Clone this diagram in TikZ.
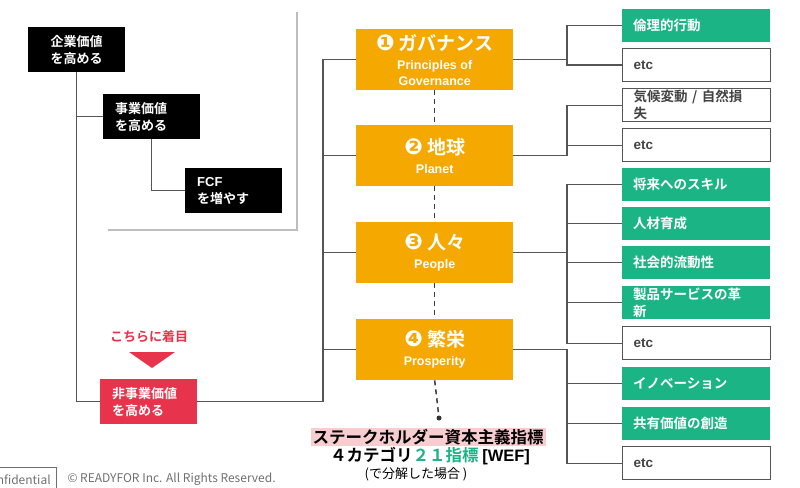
\documentclass[tikz,border=0pt]{standalone}
\usepackage{fontspec}
\setmainfont{Noto Sans CJK JP}[BoldFont={Noto Sans CJK JP Bold}]
\newfontfamily\dingfont{DejaVu Sans}
\newfontfamily\latinfont{Liberation Sans}
\usetikzlibrary{positioning}

\definecolor{pillarorange}{HTML}{F5A800}
\definecolor{leafgreen}{HTML}{1BB585}
\definecolor{focusred}{HTML}{E7334B}
\definecolor{linegray}{HTML}{555555}
\definecolor{framegray}{HTML}{BDBDBD}
\definecolor{highlightpink}{HTML}{F8CDD0}
\definecolor{footgray}{HTML}{707070}
\definecolor{etcgray}{HTML}{444444}

\newcommand\pillarhead[2]{{\fontsize{19}{22}\selectfont{\dingfont\fontsize{22}{22}\selectfont #1}\hspace{4pt}#2}}
\newcommand\pillarsub{\latinfont\fontsize{12.5}{16}\selectfont}

\tikzset{
  valuebox/.style={fill=black, text=white, anchor=north west, inner xsep=12pt, inner ysep=0pt,
    text width=73pt, minimum height=45pt, align=left, font=\bfseries\fontsize{13}{17}\selectfont},
  pillar/.style={fill=pillarorange, text=white, anchor=north west, inner sep=0pt,
    minimum width=157pt, minimum height=61pt, align=center, font=\bfseries\fontsize{12.5}{16}\selectfont},
  leaf/.style={fill=leafgreen, text=white, anchor=north west, inner xsep=11pt, inner ysep=0pt,
    text width=126pt, minimum height=33pt, align=left, font=\bfseries\fontsize{13.5}{17}\selectfont},
  etcleaf/.style={leaf, fill=white, draw=linegray, line width=1.2pt, text=etcgray},
  link/.style={draw=linegray, line width=1.2pt},
  pillarlink/.style={draw=linegray!70!black, line width=1.5pt, dash pattern=on 5pt off 4pt},
}

\begin{document}
\begin{tikzpicture}[x=1pt, y=-1pt]
  \useasboundingbox (0,0) rectangle (800,487);

  % value tree on the left
  \draw[draw=framegray, line width=2.5pt] (297,12) -- (297,230) -- (108,230);
  \node[valuebox, align=center] (firm) at (28,27) {企業価値\\を高める};
  \node[valuebox] (biz) at (103,94) {事業価値\\を高める};
  \node[valuebox] (fcf) at (185,168) {{\latinfont FCF}\\を増やす};
  \node[valuebox, fill=focusred] (nonbiz) at (100,379) {非事業価値\\を高める};

  \node[text=focusred, font=\bfseries\fontsize{13}{15}\selectfont] (focus) at (149,337) {こちらに着目};
  \fill[focusred] (129,352) -- (175,352) -- (152,368) -- cycle;

  \draw[link] (firm.south) |- (nonbiz.west);
  \draw[link] (firm.south |- biz.west) -- (biz.west);
  \draw[link] (biz.south) |- (fcf.west);

  % four categories
  \node[pillar] (gov) at (356,29) {\pillarhead{❶}{ガバナンス}\\[3pt]\pillarsub Principles of\\\pillarsub Governance};
  \node[pillar] (planet) at (356,125) {\pillarhead{❷}{地球}\\[3pt]\pillarsub Planet};
  \node[pillar] (people) at (356,222) {\pillarhead{❸}{人々}\\[3pt]\pillarsub People};
  \node[pillar] (prosper) at (356,319) {\pillarhead{❹}{繁栄}\\[3pt]\pillarsub Prosperity};

  \coordinate (spine) at (323,0);
  \draw[link] (nonbiz.east) -| (spine |- gov.west) -- (gov.west);
  \foreach \p in {planet,people,prosper}
    \draw[link] (spine |- \p.west) -- (\p.west);

  \draw[pillarlink] (gov.south) -- (planet.north);
  \draw[pillarlink] (planet.south) -- (people.north);
  \draw[pillarlink] (people.south) -- (prosper.north);
  \node[circle, fill=linegray!60!black, inner sep=0pt, minimum size=5pt] (tail) at (439,418) {};
  \draw[pillarlink] (prosper.south) -- (tail);

  % metrics
  \node[leaf] (ethics) at (622,9) {倫理的行動};
  \node[etcleaf] (govetc) at (622,48) {\latinfont etc};
  \node[etcleaf] (climate) at (622,88) {気候変動 / 自然損\\失};
  \node[etcleaf] (planetetc) at (622,128) {\latinfont etc};
  \node[leaf] (skill) at (622,168) {将来へのスキル};
  \node[leaf] (talent) at (622,207) {人材育成};
  \node[leaf] (mobility) at (622,246) {社会的流動性};
  \node[leaf] (innov) at (622,286) {製品サービスの革\\新};
  \node[etcleaf] (peopleetc) at (622,326) {\latinfont etc};
  \node[leaf] (innovation) at (622,367) {イノベーション};
  \node[leaf] (sharedval) at (622,407) {共有価値の創造};
  \node[etcleaf] (prosperetc) at (622,446) {\latinfont etc};

  \coordinate (rspine) at (567,0);
  \foreach \c in {ethics,govetc}
    \draw[link] (gov.east) -| (rspine |- \c.west) -- (\c.west);
  \foreach \c in {climate,planetetc}
    \draw[link] (planet.east) -| (rspine |- \c.west) -- (\c.west);
  \foreach \c in {skill,talent,mobility,innov,peopleetc}
    \draw[link] (people.east) -| (rspine |- \c.west) -- (\c.west);
  \foreach \c in {innovation,sharedval,prosperetc}
    \draw[link] (prosper.east) -| (rspine |- \c.west) -- (\c.west);

  % caption
  \node[fill=highlightpink, inner xsep=2pt, inner ysep=1pt, font=\bfseries\fontsize{16.5}{18}\selectfont] (wefhead) at (428,437) {ステークホルダー資本主義指標};
  \node[font=\bfseries\fontsize{16.5}{18}\selectfont] (wefsub) at (430,456) {４カテゴリ\textcolor{leafgreen}{２１指標} {\latinfont [WEF]}};
  \node[font=\fontsize{13}{15}\selectfont] (wefnote) at (416,474) {(で分解した場合 )};

  % footer
  \node[draw=footgray, line width=0.6pt, text=footgray, anchor=north east, minimum height=24pt,
    inner xsep=6pt, font=\fontsize{12}{14}\selectfont] (conf) at (57,467) {Confidential};
  \node[text=footgray, anchor=west, font=\fontsize{12}{14}\selectfont] (rights) at (64,479) {© READYFOR Inc. All Rights Reserved.};
\end{tikzpicture}
\end{document}
